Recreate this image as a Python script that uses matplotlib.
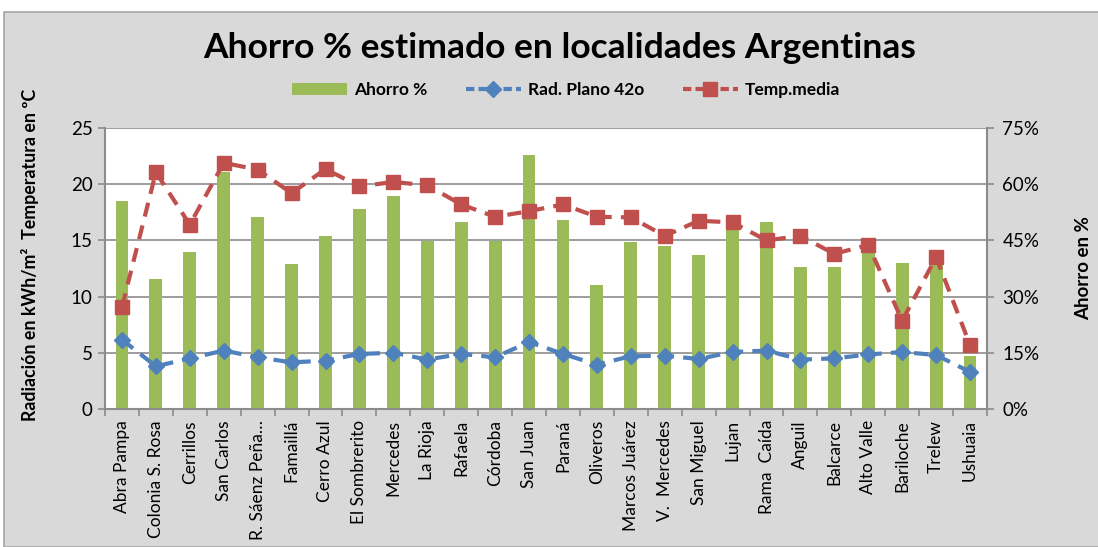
import matplotlib.pyplot as plt
from matplotlib.patches import Rectangle, Patch
from matplotlib.lines import Line2D
from matplotlib.ticker import FuncFormatter
import numpy as np

plt.rcParams['font.family'] = ['Lato', 'DejaVu Sans']

localidades = ["Abra Pampa", "Colonia S. Rosa", "Cerrillos", "San Carlos", "R. Sáenz Peña…",
               "Famaillá", "Cerro Azul", "El Sombrerito", "Mercedes", "La Rioja", "Rafaela",
               "Córdoba", "San Juan", "Paraná", "Oliveros", "Marcos Juárez", "V.  Mercedes",
               "San Miguel", "Lujan", "Rama  Caída", "Anguil", "Balcarce", "Alto Valle",
               "Bariloche", "Trelew", "Ushuaia"]

# Ahorro en % (eje derecho)
ahorro = [55.4, 34.8, 41.8, 63.2, 51.2, 38.6, 46.1, 53.4, 56.9, 44.9, 49.9, 44.9, 67.9,
          50.4, 33.2, 44.5, 43.4, 41.0, 49.5, 49.9, 37.9, 37.9, 42.5, 39.0, 39.0, 14.1]
# Radiacion plano 42o (kWh/m2)
rad = [6.17, 3.8, 4.5, 5.2, 4.6, 4.15, 4.3, 4.9, 5.0, 4.4, 4.9, 4.6, 5.96,
       4.9, 3.95, 4.7, 4.75, 4.45, 5.07, 5.2, 4.4, 4.5, 4.85, 5.07, 4.8, 3.3]
# Temperatura media (ºC)
temp = [9.07, 21.06, 16.4, 21.9, 21.3, 19.2, 21.35, 19.8, 20.2, 19.9, 18.2, 17.1, 17.6,
        18.2, 17.1, 17.05, 15.4, 16.75, 16.6, 15.0, 15.4, 13.8, 14.6, 7.86, 13.5, 5.7]

GREEN = "#9BBB59"
BLUE = "#4F81BD"
RED = "#C0504D"
GRAY = "#8C8C8C"

fig = plt.figure(figsize=(10.98, 5.47), dpi=100)
fig.patch.set_facecolor("white")
fig.patches.append(Rectangle((4 / 1098, 0), 1.0, 1 - 12 / 547, transform=fig.transFigure,
                             facecolor="#D9D9D9", edgecolor="#A6A6A6", linewidth=1.2, zorder=-1))

rect = [105 / 1098, 1 - 409 / 547, 882 / 1098, 281 / 547]
ax2 = fig.add_axes(rect)  # bars, right scale
ax = fig.add_axes(rect, sharex=ax2)  # lines, left scale
ax.patch.set_visible(False)
ax2.set_facecolor("white")

x = np.arange(len(localidades))

# Bars
ax2.bar(x, ahorro, width=0.38, color=GREEN, zorder=2)
ax2.set_ylim(0, 75)
ax2.set_yticks(np.arange(0, 76, 15))
ax2.yaxis.set_major_formatter(FuncFormatter(lambda v, p: f"{int(v)}%"))
ax2.yaxis.tick_right()
ax2.yaxis.set_label_position("right")
ax2.grid(axis="y", color=GRAY, linewidth=1.2, zorder=0)
ax2.set_axisbelow(True)
ax2.set_ylabel("Ahorro en %", fontsize=13.5, fontweight="bold", labelpad=26)

# Lines
dash = (0, (3.4, 2.2))
ax.plot(x, rad, color=BLUE, linewidth=3, linestyle=dash, marker="D", markersize=8,
        markerfacecolor=BLUE, markeredgecolor=BLUE, zorder=3)
ax.plot(x, temp, color=RED, linewidth=3, linestyle=dash, marker="s", markersize=10,
        markerfacecolor=RED, markeredgecolor=RED, zorder=4)
ax.set_ylim(0, 25)
ax.set_yticks(np.arange(0, 26, 5))
ax.set_ylabel("Radiación en kWh/m²  Temperatura en ºC", fontsize=12.8, fontweight="bold",
              labelpad=22)
ax.yaxis.set_label_coords(-0.075, 0.55)

ax.set_xlim(-0.5, len(localidades) - 0.5)
ax.set_xticks(x)
ax.set_xticklabels(localidades, rotation=90, fontsize=12.5)
ax.set_xticks(np.arange(-0.5, len(localidades), 1), minor=True)
ax.tick_params(axis="x", which="major", length=0, pad=8)
ax.tick_params(axis="x", which="minor", length=5, color=GRAY, width=1.2)
ax.tick_params(axis="y", length=5, color=GRAY, width=1.2, labelsize=13.5, pad=4)
ax2.tick_params(axis="y", length=5, color=GRAY, width=1.2, labelsize=13.5, pad=6)
ax2.tick_params(axis="x", which="both", length=0, labelbottom=False)

for a in (ax, ax2):
    for s in a.spines.values():
        s.set_visible(False)
ax.spines["left"].set_visible(True)
ax.spines["bottom"].set_visible(True)
ax2.spines["right"].set_visible(True)
for s in (ax.spines["left"], ax.spines["bottom"], ax2.spines["right"]):
    s.set_color(GRAY)
    s.set_linewidth(1.5)

fig.text(560 / 1098, 1 - 48 / 547, "Ahorro % estimado en localidades Argentinas",
         ha="center", va="center", fontsize=25.5, fontweight="bold")

handles = [Patch(facecolor=GREEN),
           Line2D([], [], color=BLUE, linewidth=3, linestyle=(0, (2, 1)), marker="D", markersize=8),
           Line2D([], [], color=RED, linewidth=3, linestyle=(0, (2, 1)), marker="s", markersize=10)]
fig.legend(handles, ["Ahorro %", "Rad. Plano 42o", "Temp.media"], loc="center",
           bbox_to_anchor=(566 / 1098, 1 - 90 / 547), ncol=3, frameon=False,
           prop={"weight": "bold", "size": 12.5}, handlelength=3.2, handletextpad=0.4,
           columnspacing=2.2)

fig.savefig("out.png", dpi=100, facecolor=fig.get_facecolor())
